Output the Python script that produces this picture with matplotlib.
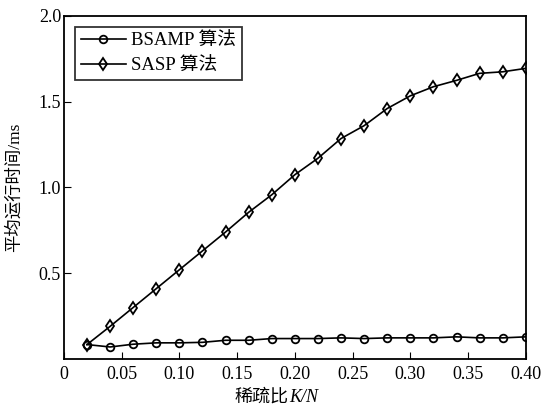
import matplotlib
matplotlib.use("Agg")
import matplotlib.pyplot as plt
from matplotlib.offsetbox import AnchoredOffsetbox, HPacker, TextArea

plt.rcParams["font.family"] = ["Liberation Serif", "Noto Sans CJK SC"]

# Data
sparsity = [0.02, 0.04, 0.06, 0.08, 0.10, 0.12, 0.14, 0.16, 0.18, 0.20,
            0.22, 0.24, 0.26, 0.28, 0.30, 0.32, 0.34, 0.36, 0.38, 0.40]
bsamp_time = [0.084, 0.070, 0.086, 0.094, 0.094, 0.097, 0.109, 0.109, 0.119, 0.119,
              0.119, 0.123, 0.119, 0.123, 0.123, 0.123, 0.129, 0.123, 0.123, 0.129]
sasp_time = [0.084, 0.19, 0.30, 0.41, 0.52, 0.63, 0.74, 0.855, 0.957, 1.074,
             1.17, 1.285, 1.36, 1.46, 1.534, 1.587, 1.624, 1.665, 1.674, 1.694]
series_names = ["BSAMP 算法", "SASP 算法"]
x_ticks = [0, 0.05, 0.10, 0.15, 0.20, 0.25, 0.30, 0.35, 0.40]
x_labels = ["0", "0.05", "0.10", "0.15", "0.20", "0.25", "0.30", "0.35", "0.40"]
y_ticks = [0.5, 1.0, 1.5, 2.0]

fig = plt.figure(figsize=(5.46, 4.07), dpi=100)
ax = fig.add_axes([0.117, 0.118, 0.846, 0.843])

ax.plot(sparsity, bsamp_time, color="black", lw=1.2, marker="o", ms=5.5,
        mfc="none", mew=1.3, label=series_names[0])
ax.plot(sparsity, sasp_time, color="black", lw=1.2, marker="d", ms=6,
        mfc="none", mew=1.3, label=series_names[1])

ax.set_xlim(0, 0.40)
ax.set_ylim(0, 2.0)
ax.set_xticks(x_ticks)
ax.set_xticklabels(x_labels)
ax.set_yticks(y_ticks)
ax.set_yticklabels(["%.1f" % v for v in y_ticks])
ax.tick_params(axis="x", direction="in", length=5, labelsize=13, pad=5)
ax.tick_params(axis="y", direction="in", length=5, labelsize=13, pad=2)
for sp in ax.spines.values():
    sp.set_linewidth(1.3)

# x label: CJK part upright, K/N italic, packed side by side
label_box = HPacker(children=[
    TextArea("稀疏比", textprops=dict(fontsize=13)),
    TextArea("K/N", textprops=dict(fontsize=13, style="italic")),
], align="baseline", pad=0, sep=0)
anchored = AnchoredOffsetbox(loc="upper center", child=label_box, pad=0, frameon=False,
                             bbox_to_anchor=(0.46, -0.087),
                             bbox_transform=ax.transAxes, borderpad=0)
ax.add_artist(anchored)

ax.set_ylabel("平均运行时间/ms", fontsize=12.5)
ax.yaxis.set_label_coords(-0.089, 0.5)

leg = ax.legend(loc="upper left", fontsize=13.5, frameon=True, fancybox=False,
                edgecolor="black", handlelength=2.4, borderpad=0.3,
                labelspacing=0.4, handletextpad=0.3, borderaxespad=0.6)
leg.get_frame().set_linewidth(1.3)

fig.savefig("out.png", dpi=100)
